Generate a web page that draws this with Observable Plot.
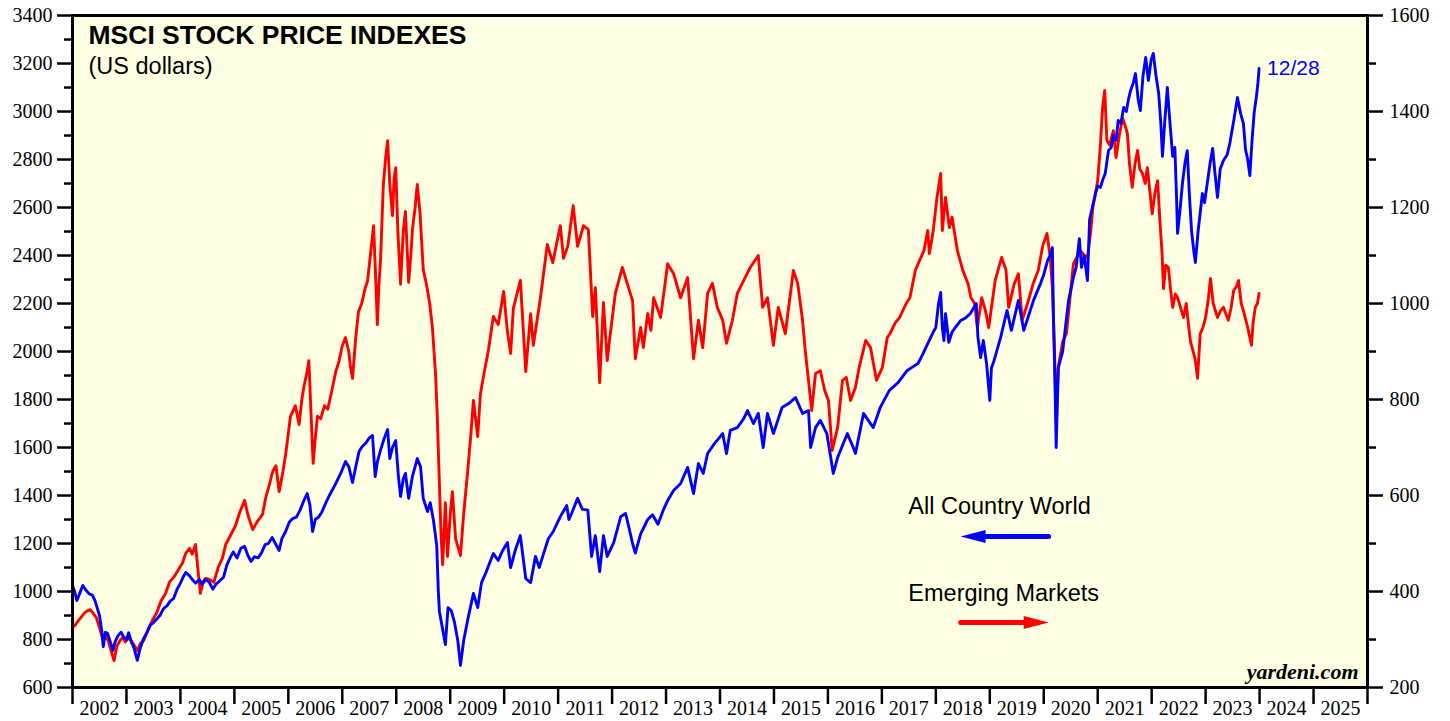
<!DOCTYPE html>
<html><head><meta charset="utf-8">
<script src="https://cdn.jsdelivr.net/npm/d3@7"></script>
<script src="https://cdn.jsdelivr.net/npm/@observablehq/plot@0.6"></script>
<style>html,body{margin:0;padding:0;background:#fff;} #chart svg{display:block;}</style>
</head><body><div id="chart"></div>
<script>
// MSCI World ("All Country World" in legend), left axis, US dollars
const worldSeries = [
[2002.00,1025],[2002.04,1000],[2002.08,962],[2002.13,990],[2002.19,1025],[2002.25,1005],[2002.31,990],[2002.37,985],[2002.42,960],[2002.46,930],[2002.50,900],[2002.54,840],[2002.57,770],[2002.61,830],[2002.65,825],[2002.70,790],[2002.75,755],[2002.79,790],[2002.84,815],[2002.90,830],[2002.95,810],[2003.00,800],[2003.04,828],[2003.09,790],[2003.14,765],[2003.20,713],[2003.25,760],[2003.31,800],[2003.38,830],[2003.44,860],[2003.50,870],[2003.56,885],[2003.62,900],[2003.69,930],[2003.75,940],[2003.81,960],[2003.87,970],[2003.94,1010],
[2004.00,1035],[2004.05,1060],[2004.10,1079],[2004.17,1065],[2004.22,1050],[2004.28,1035],[2004.35,1050],[2004.40,1030],[2004.47,1050],[2004.53,1040],[2004.60,1010],[2004.66,1030],[2004.73,1045],[2004.80,1060],[2004.86,1110],[2004.92,1140],[2004.98,1165],
[2005.05,1140],[2005.12,1180],[2005.19,1188],[2005.25,1150],[2005.31,1125],[2005.37,1145],[2005.44,1140],[2005.50,1160],[2005.57,1195],[2005.63,1200],[2005.70,1225],[2005.76,1200],[2005.83,1171],[2005.88,1220],[2005.95,1250],
[2006.02,1290],[2006.08,1304],[2006.15,1310],[2006.22,1340],[2006.29,1380],[2006.35,1408],[2006.40,1360],[2006.45,1250],[2006.50,1300],[2006.56,1310],[2006.62,1330],[2006.69,1367],[2006.76,1400],[2006.83,1429],[2006.90,1460],[2006.97,1492],
[2007.06,1542],[2007.12,1520],[2007.19,1454],[2007.25,1520],[2007.31,1583],[2007.37,1604],[2007.44,1620],[2007.50,1640],[2007.56,1650],[2007.61,1479],[2007.65,1540],[2007.71,1590],[2007.78,1640],[2007.84,1675],[2007.88,1554],[2007.93,1600],[2007.99,1629],
[2008.04,1480],[2008.08,1396],[2008.13,1470],[2008.17,1492],[2008.23,1388],[2008.30,1480],[2008.39,1554],[2008.45,1520],[2008.50,1388],[2008.58,1333],[2008.63,1370],[2008.69,1296],[2008.75,1192],[2008.78,1000],[2008.80,917],[2008.86,842],[2008.91,779],[2008.96,933],
[2009.02,920],[2009.08,871],[2009.14,796],[2009.19,692],[2009.25,796],[2009.33,888],[2009.43,992],[2009.51,933],[2009.58,1037],[2009.67,1083],[2009.75,1130],[2009.80,1158],[2009.89,1129],[2009.97,1170],
[2010.06,1204],[2010.12,1100],[2010.21,1175],[2010.30,1233],[2010.40,1054],[2010.49,1037],[2010.58,1146],[2010.65,1100],[2010.73,1158],[2010.82,1221],[2010.91,1250],
[2011.04,1312],[2011.16,1358],[2011.20,1300],[2011.25,1325],[2011.36,1388],[2011.45,1342],[2011.55,1340],[2011.62,1146],[2011.69,1233],[2011.77,1083],[2011.84,1233],[2011.91,1146],
[2012.03,1204],[2012.16,1312],[2012.25,1325],[2012.30,1279],[2012.38,1200],[2012.43,1160],[2012.53,1240],[2012.66,1300],[2012.75,1320],[2012.85,1280],[2012.95,1340],
[2013.03,1379],[2013.14,1421],[2013.27,1450],[2013.40,1517],[2013.51,1408],[2013.60,1533],[2013.69,1492],[2013.77,1575],[2013.90,1617],
[2014.05,1658],[2014.12,1575],[2014.19,1671],[2014.32,1683],[2014.44,1720],[2014.51,1754],[2014.62,1700],[2014.71,1742],[2014.80,1600],[2014.88,1742],[2014.99,1658],
[2015.15,1767],[2015.27,1783],[2015.40,1808],[2015.53,1742],[2015.64,1754],[2015.68,1600],[2015.77,1683],[2015.86,1713],[2015.98,1658],
[2016.04,1575],[2016.10,1492],[2016.18,1558],[2016.36,1658],[2016.47,1600],[2016.51,1575],[2016.66,1742],[2016.84,1683],[2016.97,1767],
[2017.14,1838],[2017.30,1870],[2017.47,1921],[2017.60,1940],[2017.67,1950],[2017.76,1990],[2017.85,2033],[2017.95,2080],
[2018.00,2100],[2018.05,2200],[2018.09,2246],[2018.12,2100],[2018.15,2046],[2018.18,2158],[2018.21,2100],[2018.24,2038],[2018.30,2080],[2018.36,2100],[2018.46,2129],[2018.55,2140],[2018.64,2158],[2018.75,2200],[2018.78,2060],[2018.83,1975],[2018.88,2046],[2018.94,1950],
[2019.00,1796],[2019.03,1930],[2019.08,1963],[2019.20,2058],[2019.32,2171],[2019.40,2088],[2019.53,2213],[2019.63,2088],[2019.72,2150],[2019.81,2213],[2019.94,2283],
[2020.00,2320],[2020.07,2379],[2020.12,2400],[2020.16,2433],[2020.18,2142],[2020.21,1850],[2020.23,1600],[2020.27,1933],[2020.35,2000],[2020.46,2213],[2020.55,2308],[2020.60,2350],[2020.66,2470],[2020.70,2350],[2020.75,2400],[2020.81,2296],[2020.85,2550],[2020.90,2600],[2020.96,2660],
[2021.00,2690],[2021.05,2683],[2021.10,2720],[2021.14,2742],[2021.20,2838],[2021.25,2850],[2021.29,2900],[2021.34,2880],[2021.38,2963],[2021.43,2950],[2021.48,3017],[2021.53,3000],[2021.57,3050],[2021.61,3088],[2021.66,3120],[2021.70,3158],[2021.75,3050],[2021.79,3004],[2021.84,3150],[2021.89,3225],[2021.94,3129],[2021.99,3215],
[2022.03,3242],[2022.08,3150],[2022.13,3075],[2022.17,2950],[2022.20,2813],[2022.24,2950],[2022.29,3100],[2022.34,2950],[2022.39,2813],[2022.43,2850],[2022.46,2650],[2022.48,2492],[2022.53,2600],[2022.57,2700],[2022.62,2790],[2022.66,2837],[2022.70,2650],[2022.74,2500],[2022.78,2420],[2022.81,2371],[2022.86,2500],[2022.94,2658],[2022.98,2620],
[2023.03,2700],[2023.08,2780],[2023.13,2846],[2023.17,2750],[2023.22,2642],[2023.27,2760],[2023.33,2796],[2023.40,2820],[2023.45,2870],[2023.52,2960],[2023.59,3058],[2023.65,2990],[2023.70,2950],[2023.74,2840],[2023.78,2800],[2023.82,2733],[2023.86,2880],[2023.90,2996],[2023.94,3060],[2023.97,3120],[2023.99,3179]
];

// MSCI Emerging Markets, right axis, US dollars
const emSeries = [
[2002.00,325],[2002.05,330],[2002.10,338],[2002.15,345],[2002.22,355],[2002.28,360],[2002.33,362],[2002.38,355],[2002.44,346],[2002.50,325],[2002.55,305],[2002.60,310],[2002.66,298],[2002.72,275],[2002.77,256],[2002.82,285],[2002.88,298],[2002.93,304],[2002.98,295],
[2003.05,304],[2003.12,292],[2003.20,277],[2003.26,292],[2003.32,298],[2003.40,320],[2003.48,340],[2003.56,355],[2003.64,380],[2003.72,395],[2003.80,420],[2003.88,430],[2003.96,445],
[2004.04,460],[2004.10,480],[2004.17,490],[2004.22,478],[2004.28,498],[2004.33,440],[2004.37,396],[2004.42,420],[2004.46,427],[2004.54,425],[2004.62,419],[2004.70,450],[2004.78,470],[2004.84,498],[2004.92,515],
[2005.02,537],[2005.10,565],[2005.19,590],[2005.25,560],[2005.34,529],[2005.42,545],[2005.52,560],[2005.58,595],[2005.65,623],[2005.71,650],[2005.77,662],[2005.83,608],[2005.90,650],[2005.95,685],
[2006.04,765],[2006.13,787],[2006.20,748],[2006.25,800],[2006.29,827],[2006.35,860],[2006.38,881],[2006.42,773],[2006.46,667],[2006.50,720],[2006.54,765],[2006.60,760],[2006.67,787],[2006.73,780],[2006.79,810],[2006.88,858],[2006.94,880],
[2007.00,912],[2007.06,929],[2007.12,900],[2007.15,870],[2007.19,844],[2007.25,930],[2007.30,983],[2007.36,1000],[2007.42,1030],[2007.47,1048],[2007.52,1100],[2007.58,1162],[2007.62,1050],[2007.65,956],[2007.68,1040],[2007.71,1094],[2007.76,1246],[2007.80,1300],[2007.84,1339],[2007.88,1250],[2007.93,1183],[2007.96,1260],[2007.99,1283],
[2008.03,1150],[2008.08,1040],[2008.13,1150],[2008.17,1192],[2008.23,1044],[2008.27,1100],[2008.30,1154],[2008.35,1200],[2008.39,1248],[2008.44,1190],[2008.50,1071],[2008.56,1040],[2008.62,1000],[2008.67,950],[2008.73,850],[2008.76,767],[2008.80,623],[2008.83,520],[2008.86,456],[2008.91,585],[2008.95,473],
[2009.00,560],[2009.04,608],[2009.10,510],[2009.19,475],[2009.25,562],[2009.32,646],[2009.38,723],[2009.43,798],[2009.51,723],[2009.56,812],[2009.62,850],[2009.71,904],[2009.80,973],[2009.89,956],[2009.99,1025],
[2010.06,942],[2010.12,896],[2010.17,990],[2010.30,1048],[2010.40,858],[2010.49,979],[2010.54,913],[2010.67,1010],[2010.73,1062],[2010.80,1123],[2010.90,1085],
[2011.04,1162],[2011.10,1094],[2011.18,1120],[2011.28,1204],[2011.36,1119],[2011.47,1162],[2011.56,1154],[2011.64,973],[2011.69,1033],[2011.77,835],[2011.84,1002],[2011.91,881],[2011.96,930],
[2012.06,1021],[2012.19,1075],[2012.28,1042],[2012.38,1006],[2012.43,885],[2012.53,950],[2012.58,908],[2012.66,979],[2012.72,944],[2012.77,1012],[2012.90,971],
[2013.03,1083],[2013.14,1062],[2013.27,1012],[2013.40,1054],[2013.51,885],[2013.60,965],[2013.68,908],[2013.77,1021],[2013.86,1042],[2013.95,992],
[2014.05,965],[2014.12,917],[2014.23,965],[2014.32,1021],[2014.44,1048],[2014.56,1075],[2014.71,1100],[2014.79,992],[2014.88,1012],[2014.99,913],
[2015.08,992],[2015.21,937],[2015.36,1069],[2015.44,1042],[2015.53,965],[2015.58,902],[2015.64,840],[2015.70,777],[2015.77,854],[2015.86,860],[2015.94,819],
[2016.01,798],[2016.08,694],[2016.18,742],[2016.27,840],[2016.34,846],[2016.42,798],[2016.51,825],[2016.58,867],[2016.70,923],[2016.79,908],[2016.90,840],
[2017.01,867],[2017.10,929],[2017.15,937],[2017.25,960],[2017.33,971],[2017.45,1000],[2017.52,1012],[2017.62,1069],[2017.70,1090],[2017.78,1110],[2017.85,1152],[2017.88,1104],[2017.95,1150],
[2018.02,1220],[2018.09,1271],[2018.12,1152],[2018.18,1221],[2018.25,1158],[2018.30,1180],[2018.40,1110],[2018.50,1069],[2018.60,1040],[2018.65,1012],[2018.72,1000],[2018.77,950],[2018.85,1012],[2018.92,985],[2018.98,950],
[2019.10,1048],[2019.22,1096],[2019.30,1070],[2019.35,992],[2019.45,1040],[2019.53,1062],[2019.60,965],[2019.70,1000],[2019.80,1040],[2019.90,1070],[2019.98,1120],
[2020.06,1146],[2020.12,1096],[2020.16,1033],[2020.20,900],[2020.23,756],[2020.27,867],[2020.35,920],[2020.42,937],[2020.55,1083],[2020.68,1110],[2020.75,1100],[2020.81,1096],[2020.87,1150],[2020.91,1200],[2020.96,1230],
[2021.00,1256],[2021.05,1330],[2021.09,1408],[2021.13,1444],[2021.17,1340],[2021.22,1330],[2021.29,1360],[2021.34,1304],[2021.40,1350],[2021.46,1387],[2021.51,1370],[2021.55,1354],[2021.59,1290],[2021.64,1242],[2021.69,1290],[2021.74,1319],[2021.78,1280],[2021.83,1271],[2021.88,1250],[2021.92,1283],[2021.97,1230],
[2022.01,1187],[2022.06,1230],[2022.11,1256],[2022.16,1158],[2022.19,1110],[2022.22,1031],[2022.26,1080],[2022.31,1075],[2022.35,1030],[2022.39,992],[2022.44,1020],[2022.48,1012],[2022.54,990],[2022.59,971],[2022.64,1000],[2022.68,958],[2022.72,920],[2022.77,900],[2022.81,881],[2022.85,844],[2022.90,937],[2022.95,950],
[2023.00,971],[2023.05,1010],[2023.09,1052],[2023.14,1000],[2023.22,971],[2023.28,985],[2023.33,992],[2023.42,965],[2023.47,990],[2023.52,1027],[2023.57,1035],[2023.61,1048],[2023.66,1000],[2023.70,985],[2023.78,950],[2023.85,913],[2023.88,960],[2023.92,992],[2023.96,1000],[2023.99,1021]
];

const leftTicks = d3.range(600, 3401, 200);
const leftMinor = d3.range(700, 3400, 200);
const rightTicks = d3.range(200, 1601, 200);
const rightMinor = d3.range(300, 1600, 200);
const yearTicks = d3.range(2002, 2027);
const yearLabels = d3.range(2002, 2026);
const legendLabels = ["All Country World", "Emerging Markets"];
const lastDateLabel = "12/28";

// right-axis (EM) values mapped onto the left scale: 200..1600 -> 600..3400
const emToLeft = v => 600 + (v - 200) * 2;
const leftToEm = v => (v - 600) / 2 + 200;

const SANS = "'Liberation Sans', Arial, Helvetica, sans-serif";
const SERIF = "'Liberation Serif', 'Times New Roman', serif";
const BLUE = "#0000ff", RED = "#ff0000";

// arrow head symbol (points right, tip at +12.5)
const arrowHead = {draw(ctx) { ctx.moveTo(12.5, 0); ctx.lineTo(-12.5, -6.5); ctx.lineTo(-12.5, 6.5); ctx.closePath(); }};

const legendText = [
  {x: 2017.49, y: 1325, label: legendLabels[0]},
  {x: 2017.49, y: 962, label: legendLabels[1]}
];
const legendShafts = [
  {x1: 2018.69, x2: 2020.09, y: 1229, c: BLUE},
  {x1: 2018.46, x2: 2019.85, y: 871, c: RED}
];
const legendHeads = [
  {x: 2018.69, y: 1229, c: BLUE, r: 180},
  {x: 2019.86, y: 871, c: RED, r: 0}
];

const lastPoint = worldSeries[worldSeries.length - 1];

const chart = Plot.plot({
  width: 1450, height: 721,
  marginLeft: 72, marginRight: 83, marginTop: 15, marginBottom: 34,
  x: {domain: [2002, 2026]},
  y: {domain: [600, 3400]},
  style: {fontFamily: SERIF, fontSize: "20px", background: "#ffffff", color: "#000", overflow: "visible"},
  marks: [
    Plot.frame({fill: "#ffffe3"}),
    Plot.line(emSeries, {x: d => d[0], y: d => emToLeft(d[1]), stroke: RED, strokeWidth: 2.9, strokeLinejoin: "round"}),
    Plot.line(worldSeries, {x: d => d[0], y: d => d[1], stroke: BLUE, strokeWidth: 2.9, strokeLinejoin: "round"}),
    Plot.text([lastPoint], {x: d => d[0], y: d => d[1], text: () => lastDateLabel, dx: 8, textAnchor: "start", lineAnchor: "middle", fill: BLUE, fontFamily: SANS, fontSize: 21}),
    // legend
    Plot.text(legendText, {x: "x", y: "y", text: "label", textAnchor: "start", lineAnchor: "bottom", fontFamily: SANS, fontSize: 23.5, fill: "#000"}),
    Plot.link(legendShafts, {x1: "x1", x2: "x2", y1: "y", y2: "y", stroke: d => d.c, strokeWidth: 5, strokeLinecap: "round"}),
    Plot.dot(legendHeads, {x: "x", y: "y", fill: d => d.c, stroke: null, symbol: arrowHead, rotate: "r", r: 8}),
    // title
    Plot.text(["MSCI STOCK PRICE INDEXES"], {frameAnchor: "top-left", dx: 16, dy: 10, textAnchor: "start", lineAnchor: "top", fontFamily: SANS, fontWeight: "bold", fontSize: 26.5, fill: "#000"}),
    Plot.text(["(US dollars)"], {frameAnchor: "top-left", dx: 16, dy: 42, textAnchor: "start", lineAnchor: "top", fontFamily: SANS, fontSize: 23.5, fill: "#000"}),
    Plot.text(["yardeni.com"], {frameAnchor: "bottom-right", dx: -9, dy: -9, textAnchor: "end", lineAnchor: "bottom", fontFamily: SERIF, fontWeight: "bold", fontStyle: "italic", fontSize: 22, fill: "#000"}),
    // axes
    Plot.axisY(leftTicks, {anchor: "left", tickSize: 15, tickPadding: 5, strokeWidth: 2.5, fontSize: 20, fontFamily: SERIF, tickFormat: d => String(d), label: null}),
    Plot.axisY(leftMinor, {anchor: "left", tickSize: 8, tickPadding: 0, strokeWidth: 2.5, tickFormat: () => "", label: null}),
    Plot.axisY(rightTicks.map(emToLeft), {anchor: "right", tickSize: 15, tickPadding: 7, strokeWidth: 2.5, fontSize: 20, fontFamily: SERIF, tickFormat: d => String(leftToEm(d)), label: null}),
    Plot.axisY(rightMinor.map(emToLeft), {anchor: "right", tickSize: 8, tickPadding: 0, strokeWidth: 2.5, tickFormat: () => "", label: null}),
    Plot.axisX(yearTicks, {anchor: "bottom", tickSize: 17, tickPadding: 0, strokeWidth: 2.5, tickFormat: () => "", label: null}),
    Plot.axisX(yearLabels.map(y => y + 0.5), {anchor: "bottom", tickSize: 0, tickPadding: 13, fontSize: 20, fontFamily: SERIF, tickFormat: d => String(Math.floor(d)), label: null}),
    Plot.frame({stroke: "#000", strokeWidth: 3})
  ]
});
document.getElementById("chart").appendChild(chart);
</script>
</body></html>
